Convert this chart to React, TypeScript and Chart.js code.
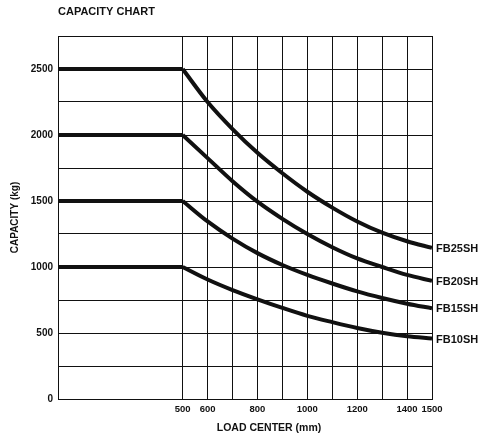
import React, { useEffect, useRef } from "react";
import { Chart, registerables } from "chart.js";

Chart.register(...registerables);

const loadCenters = [500, 600, 700, 800, 900, 1000, 1100, 1200, 1300, 1400, 1500];
const fb25sh = [2500, 2250, 2045, 1865, 1710, 1570, 1450, 1345, 1260, 1195, 1145];
const fb20sh = [2000, 1825, 1650, 1495, 1365, 1250, 1150, 1065, 1000, 940, 895];
const fb15sh = [1500, 1345, 1215, 1105, 1015, 940, 875, 815, 765, 722, 687];
const fb10sh = [1000, 905, 825, 755, 690, 630, 582, 538, 502, 475, 458];
const seriesNames = ["FB25SH", "FB20SH", "FB15SH", "FB10SH"];
const seriesValues = [fb25sh, fb20sh, fb15sh, fb10sh];

const xGridValues = [0, 500, 600, 700, 800, 900, 1000, 1100, 1200, 1300, 1400, 1500];
const xTickLabels = ["500", "600", "800", "1000", "1200", "1400", "1500"];
const yTickLabels = ["0", "500", "1000", "1500", "2000", "2500"];

const FONT = "'Liberation Sans', Arial, sans-serif";
const INK = "#111";

export default function App() {
  const ref = useRef<HTMLCanvasElement | null>(null);

  useEffect(() => {
    if (!ref.current) return;
    const datasets: any[] = [];
    seriesValues.forEach((vals, i) => {
      datasets.push({
        label: seriesNames[i] + " flat",
        data: [
          { x: 0, y: vals[0] },
          { x: loadCenters[0], y: vals[0] },
        ],
        borderColor: INK,
        borderWidth: 4,
        pointRadius: 0,
        tension: 0,
      });
      datasets.push({
        label: seriesNames[i],
        data: loadCenters.map((x, j) => ({ x, y: vals[j] })),
        borderColor: INK,
        borderWidth: 4,
        pointRadius: 0,
        cubicInterpolationMode: "monotone",
      });
    });

    const textPlugin = {
      id: "texts",
      afterDraw(chart: any) {
        const ctx = chart.ctx;
        const xs = chart.scales.x;
        const ys = chart.scales.y;
        ctx.save();
        ctx.fillStyle = INK;
        ctx.textBaseline = "alphabetic";
        ctx.textAlign = "left";
        ctx.font = `bold 11px ${FONT}`;
        ctx.fillText("CAPACITY CHART", 58, 15);
        ctx.textAlign = "center";
        ctx.font = `bold 10.5px ${FONT}`;
        ctx.fillText("LOAD CENTER (mm)", 269, 431);
        ctx.textAlign = "left";
        ctx.textBaseline = "middle";
        ctx.font = `bold 11px ${FONT}`;
        seriesValues.forEach((vals, i) => {
          const last = vals[vals.length - 1];
          const px = xs.getPixelForValue(loadCenters[loadCenters.length - 1]) + 4;
          const py = ys.getPixelForValue(last) + 1;
          ctx.fillText(seriesNames[i], px, py);
        });
        ctx.restore();
      },
    };

    const chart = new Chart(ref.current, {
      type: "line",
      data: { datasets },
      plugins: [textPlugin],
      options: {
        animation: false,
        responsive: false,
        devicePixelRatio: 1,
        layout: { padding: { left: 8, right: 50, top: 36, bottom: 0 } },
        plugins: {
          legend: { display: false },
          tooltip: { enabled: false },
          title: { display: false },
        },
        scales: {
          x: {
            type: "linear",
            min: 0,
            max: 1500,
            afterBuildTicks: (axis: any) => {
              axis.ticks = xGridValues.map((v) => ({ value: v }));
            },
            afterFit: (axis: any) => {
              axis.height = 37;
            },
            grid: { color: INK, lineWidth: 1, drawTicks: false },
            border: { color: INK, width: 1 },
            ticks: {
              autoSkip: false,
              maxRotation: 0,
              padding: 5,
              color: INK,
              font: { family: FONT, size: 9.5, weight: "bold" },
              callback: (v: any) => (xTickLabels.includes(String(v)) ? String(v) : ""),
            },
          },
          y: {
            min: 0,
            max: 2750,
            afterFit: (axis: any) => {
              axis.width = 50;
            },
            grid: { color: INK, lineWidth: 1, drawTicks: false },
            border: { color: INK, width: 1 },
            ticks: {
              stepSize: 250,
              autoSkip: false,
              padding: 5,
              color: INK,
              font: { family: FONT, size: 10, weight: "bold" },
              callback: (v: any) => (yTickLabels.includes(String(v)) ? String(v) : ""),
            },
            title: {
              display: true,
              text: "CAPACITY (kg)",
              color: INK,
              font: { family: FONT, size: 10, weight: "bold" },
              padding: { top: 1, bottom: 0 },
            },
          },
        },
      },
    });
    return () => chart.destroy();
  }, []);

  return (
    <div style={{ position: "absolute", left: 0, top: 0, width: 482, height: 436, background: "#fff" }}>
      <canvas ref={ref} width={482} height={436} style={{ width: 482, height: 436 }} />
    </div>
  );
}
